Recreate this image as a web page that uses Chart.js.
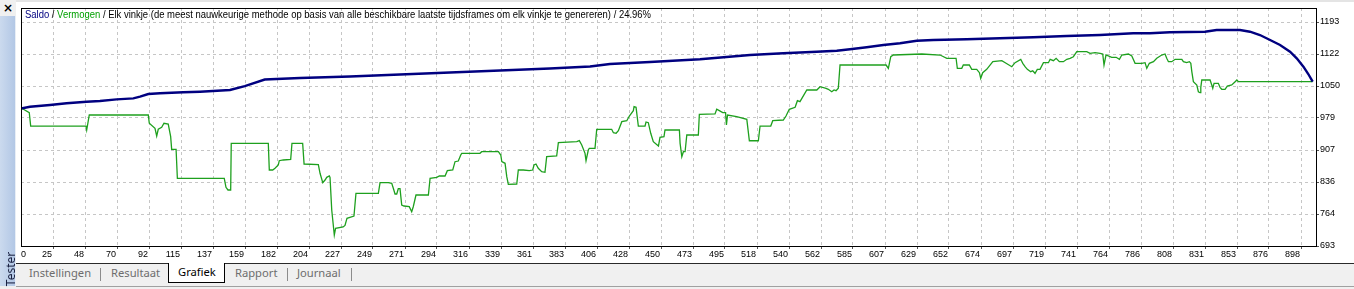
<!DOCTYPE html>
<html><head><meta charset="utf-8">
<script src="https://cdn.jsdelivr.net/npm/chart.js@4.4.0/dist/chart.umd.min.js"></script>
<style>
html,body{margin:0;padding:0;width:1354px;height:289px;overflow:hidden;background:#f0f0f0;font-family:"Liberation Sans",Arial,sans-serif;}
#wrap{position:relative;width:1354px;height:289px;}
#chart{position:absolute;left:16px;top:0;background:#fff;}
#topbar{position:absolute;left:0;top:0;width:1354px;height:2px;background:#e4e4e4;}
#corner{position:absolute;left:0;top:0;width:16px;height:16px;background:#f0f0f0;}
#close{position:absolute;left:3px;top:0px;font:bold 12px "DejaVu Sans",sans-serif;color:#000;line-height:16px;}
#strip{position:absolute;left:0;top:16px;width:15px;height:270px;background:linear-gradient(to right,#cbdaee,#b2c7e5);border-right:1px solid #e8eef6;}
#tester{position:absolute;left:-12px;top:262px;width:42px;height:14px;line-height:14px;text-align:center;transform:rotate(-90deg);font:12px "Noto Sans",sans-serif;color:#1b2242;}
#legend{position:absolute;left:25px;top:9px;white-space:nowrap;font-size:10px;line-height:11px;transform-origin:0 0;color:#000;}
#tabs{position:absolute;left:16px;top:263px;width:1338px;height:22px;border-top:1px solid #2a2a2a;border-bottom:1px solid #a0a0a0;background:#f0f0f0;}
.tab{position:absolute;top:1px;line-height:17px;font:11.2px "Noto Sans",sans-serif;color:#6d6d6d;white-space:nowrap;}
.sep{position:absolute;top:4px;width:1px;height:13px;background:#8c8c8c;}
#sel{position:absolute;left:152px;top:-1px;width:55px;height:19px;border:1px solid #000;border-top:none;background:#fff;}
</style></head>
<body><div id="wrap">
<canvas id="chart" width="1338" height="263"></canvas>
<div id="topbar"></div>
<div id="corner"><span id="close">×</span></div>
<div id="strip"></div>
<div id="tester">Tester</div>
<div id="legend"><span style="color:#000080">Saldo</span> / <span style="color:#00a000">Vermogen</span> / Elk vinkje (de meest nauwkeurige methode op basis van alle beschikbare laatste tijdsframes om elk vinkje te genereren) / 24.96%</div>
<div id="tabs">
  <div class="tab" style="left:13px">Instellingen</div>
  <div class="sep" style="left:84px"></div>
  <div class="tab" style="left:95px">Resultaat</div>
  <div id="sel"><div class="tab" style="left:9px;top:1px;color:#000">Grafiek</div></div>
  <div class="tab" style="left:219px">Rapport</div>
  <div class="sep" style="left:271px"></div>
  <div class="tab" style="left:281px">Journaal</div>
  <div class="sep" style="left:335px"></div>
</div>
</div>
<script>
// ---- data ----
const xLabels = [0,25,48,70,92,115,137,159,182,204,227,249,271,294,316,339,361,383,406,428,450,473,495,518,540,562,585,607,629,652,674,697,719,741,764,786,808,831,853,876,898];
const yLabels = [693,764,836,907,979,1050,1122,1193];

const balanceTrades = [0,6.3,20.3,32,46,55.4,67.1,78.8,83.5,89.3,97.5,113.9,125.6,146.6,157,171,195.7,230.8,265.9,301,336,371,399.2,413.2,441.3,476.4,511.4,534.8,558.2,572.3,581.6,593.3,605,616.7,628.4,640,663.5,686.8,710.2,733.6,757,780.3,792,806,830.6,838.8,855.2,862.2,869.2,876.3,883.3,890.3,895,899.7,903.1,906.2];
const balanceValues = [1000,1003.9,1007.7,1011.5,1015.1,1016.6,1020.4,1022.6,1026.3,1032.3,1033.8,1036.1,1037.4,1041.2,1050,1064.6,1068,1071.3,1075.8,1080.3,1084.7,1089.2,1093.7,1099.3,1103.7,1109.7,1119.3,1123.1,1126.7,1128.9,1132.1,1136.5,1141.7,1145.5,1151.2,1152.8,1154.4,1156.6,1158.8,1161.8,1164,1167.8,1167.8,1170,1171.3,1175.1,1175.1,1171.3,1164,1152.8,1141.7,1126.7,1112,1093.2,1076.9,1059.7];

const equityTrades = [
0.5,5.8,6.8,45.6,46.1,47.9,89.3,90,94,95.2,
96.3,98.7,100.3,103.3,105,105.7,108.8,109.7,142.6,143.8,
145.2,147.1,147.5,173.5,174.2,176.6,178.2,180.5,181.2,184,
189.2,190.1,197.6,198.6,208.6,209.8,211.7,213.3,214.5,216.3,
216.8,218,219.8,220.7,226,227.3,228.7,233.6,235,250.7,
251.9,257.7,260.1,261.2,262.4,263.6,264.7,265.9,267.1,268.7,
272.4,274.1,275.2,277.1,285.8,287,291.7,293.5,297.5,299.1,
302.9,304.5,306.8,308.5,309.2,322,323.2,334.9,336.6,337.3,
339.6,340.8,341.9,347.8,348.9,352.4,356.6,359,359.9,361.3,
362.9,365.3,367.6,368.8,375.8,377,389.9,391.7,393.4,395.7,
396.4,398,398.7,402.7,403.9,414.4,415.6,417.5,419.1,421.5,
425,426.8,429.6,430.1,431.5,433.1,437.8,438.5,440.1,441.8,
443.6,447.2,448.3,451.1,451.8,461.9,462.4,463.6,464.7,465.9,
467.1,475.2,475.9,486.9,488.1,489.9,492.3,494.3,494.9,495.7,
502.1,509.2,511,517.3,518.5,526,527.4,534.8,536.7,539,
543.1,544.7,546.5,551.3,558.3,560.6,564.8,566.4,568.8,570.4,
571.8,573.4,574.6,606.9,608.5,610.2,612,632,644.8,649.5,
656,656.9,660,661.1,665.3,667,670.5,672.4,673.3,674.7,
677.5,681.8,688.1,691.1,695.1,697.4,701.4,702.8,704.4,706,
708.4,709.8,711.4,713,714.9,717.3,720.8,722,724.3,726.2,
728.5,731.3,733.7,736,738.3,740.7,747.7,750,753.5,757,
758.9,759.8,761.2,765.2,768.3,770.6,772.3,776.9,779.3,781.6,
786.3,788.6,789.8,791.6,794.5,796.8,800.3,802.6,803.8,805,
807.3,809.7,814.4,815.5,817.8,819.7,820.7,821.4,822.5,824.9,
826,827.2,827.7,828.4,834.2,835.4,836.1,837,840,841.2,
842.4,844.7,846.3,849.4,851.8,853,854.1,906.2];
const equityValues = [
1000.4,990.5,960.8,960.8,951.9,985.4,985.4,966.9,955.7,938.5,
953.5,957.9,966.9,965.3,937,908.9,908.9,844.1,844.1,824,
818,818,922.2,922.2,862.6,862.6,866.4,873.8,883.4,885,
886.5,922.2,922.2,876,874.5,855.3,834.3,840.3,846.3,849.3,
846.3,773.4,717.6,732.5,735.4,738.8,754.8,759.9,810.6,810.6,
834.3,834.3,832.9,821.8,809.1,809.1,820.9,820.9,784.5,782.3,
780.7,769.6,780.7,806.8,806.8,844.1,846.3,849.3,849.3,861.1,
862.6,881.2,882.7,896.1,899.9,899.9,903.5,903.5,896.1,881.2,
877.6,847.7,830.7,831.4,862.6,862.6,861.1,862.6,873.8,876,
866.4,858.8,857.5,892.3,893.9,923.6,925.8,928.1,918.5,899.9,
883.4,907.3,911.1,911.1,953.5,953.5,945.9,944.6,950.4,970.5,
972.7,983.2,995.1,1004,1002.6,960.8,960.8,969.8,968.2,944.6,
925.8,916.2,935.6,937,951.9,951.9,922.2,892.3,903.5,903.5,
940.8,940.8,987,987.7,998.2,995.1,990.6,990.6,963.1,985.4,
981.6,975.8,927.9,927.9,960.8,960.8,972.7,974.2,983.2,998.1,
1002.6,1017.3,1015.1,1041.2,1041.2,1048.6,1045,1042.8,1037.4,1041.2,
1039.6,1045,1097,1097,1089.6,1115.5,1119.3,1121.6,1119.3,1112,
1112,1089.6,1089.6,1097,1097,1087.4,1087.4,1079.8,1067.3,1079.8,
1087.4,1104.4,1106.6,1100.8,1093.2,1102.2,1109.7,1100.8,1093.2,1087.4,
1082.1,1084.3,1078.5,1087.4,1087.4,1102.2,1102.2,1109.7,1106.6,1112,
1104.4,1104.4,1109.7,1112,1115.5,1126.7,1126.7,1123.1,1124.5,1123.1,
1121.6,1097,1119.3,1114.2,1114.2,1109.7,1119.3,1121.6,1117.1,1100.8,
1100.8,1102.2,1089.6,1100.8,1104.4,1112,1119.3,1121.6,1112,1104.4,
1104.4,1109.7,1109.7,1104.4,1102.2,1104.4,1100.8,1082.1,1059.7,1052.4,
1037.4,1035.2,1047.2,1063.5,1063.5,1052.4,1045,1056.2,1056.2,1047.2,
1042.8,1042.8,1050.1,1052.4,1059.7,1063.5,1059.7,1059.7];

// ---- chart ----
const xStep = (xLabels[xLabels.length-1]-xLabels[0])/(xLabels.length-1);
const yStep = (yLabels[yLabels.length-1]-yLabels[0])/(yLabels.length-1);
const PX_X = 32, PX_Y = 32;            // pixels per grid step
const xMax = xStep * 1295 / PX_X;
const yMin = yLabels[0];
const yMax = yMin + yStep * 238 / PX_Y;
const font = {family:'"Liberation Sans", Arial, sans-serif', size:9};

const frame = {
  id:'frame',
  afterDatasetsDraw(chart){
    const {ctx, chartArea:a} = chart;
    ctx.save(); ctx.strokeStyle='#000'; ctx.lineWidth=1;
    ctx.strokeRect(Math.round(a.left)+0.5, Math.round(a.top)+0.5, Math.round(a.right-a.left), Math.round(a.bottom-a.top));
    ctx.restore();
  }
};

new Chart(document.getElementById('chart'), {
  type:'line',
  data:{datasets:[
    {label:'Saldo', data: balanceTrades.map((t,i)=>({x:t,y:balanceValues[i]})), borderColor:'#000080', borderWidth:2.4, pointRadius:0, tension:0, order:0},
    {label:'Vermogen', data: equityTrades.map((t,i)=>({x:t,y:equityValues[i]})), borderColor:'#1ea01e', borderWidth:1.3, pointRadius:0, tension:0, order:1}
  ]},
  options:{
    responsive:false, animation:false, devicePixelRatio:1,
    layout:{padding:{left:5, top:8, right:0, bottom:0}},
    plugins:{legend:{display:false}, tooltip:{enabled:false}},
    scales:{
      x:{type:'linear', min:0, max:xMax, bounds:'data',
        afterBuildTicks:s=>{ s.ticks = xLabels.map((l,i)=>({value: i===0 ? xStep*6/PX_X : i*xStep})); },
        afterFit:s=>{ s.height = 17; },
        ticks:{autoSkip:false, maxRotation:0, minRotation:0, align:'end', padding:0, labelOffset:-1, color:'#000', font, callback:(v,i)=>String(xLabels[i])},
        grid:{color:c=>c.index===0?'rgba(0,0,0,0)':'#c6c6c6', tickColor:c=>c.index===0?'rgba(0,0,0,0)':'#555', tickLength:3, lineWidth:1},
        border:{display:false, dash:[3,3]}
      },
      y:{type:'linear', position:'right', min:yMin, max:yMax, bounds:'data',
        afterBuildTicks:s=>{ s.ticks = yLabels.map((l,i)=>({value: yMin + i*yStep})); },
        afterFit:s=>{ s.width = 38; },
        ticks:{padding:1, color:'#000', font, callback:(v,i)=>String(yLabels[i])},
        grid:{color:'#c6c6c6', tickColor:'#555', tickLength:3, lineWidth:1},
        border:{display:false, dash:[3,3]}
      }
    }
  },
  plugins:[frame]
});

// fit legend text width to the reference
const lg = document.getElementById('legend');
const w = lg.getBoundingClientRect().width;
lg.style.transform = 'scaleX(' + (626 / w) + ')';
</script>
</body></html>
